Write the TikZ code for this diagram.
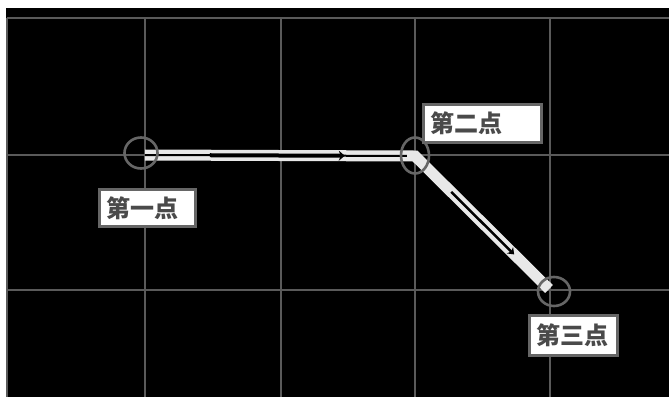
\documentclass[tikz,border=0pt]{standalone}
\usepackage{fontspec}
\newfontfamily\cjk{Noto Sans CJK SC}
\usetikzlibrary{arrows.meta,shapes.geometric,calc}
\definecolor{gridgray}{HTML}{5A5A5A}
\definecolor{markgray}{HTML}{666666}
\definecolor{textgray}{HTML}{4A4A4A}
\definecolor{bandwhite}{HTML}{E8E8E8}
\tikzset{
  gridline/.style={draw=gridgray, line width=1.5pt},
  marker/.style={ellipse, draw=markgray, line width=2.6pt, inner sep=0pt},
  band/.style={draw=bandwhite, line width=11pt, line join=miter},
  labelbox/.style={draw=markgray, line width=3pt, fill=white, text=textgray,
    font=\cjk\bfseries\fontsize{24}{24}\selectfont, inner xsep=7pt, inner ysep=0pt, align=left}
}
\begin{document}
\begin{tikzpicture}[x=1pt,y=-1pt]
                \useasboundingbox (0,0) rectangle (669,397);
                \fill[white] (0,0) rectangle (669,397);
                \fill[black] (6,8) rectangle (669,397);

                \foreach \gx in {7,145,281,415,550}
                    \draw[gridline] (\gx,18) to (\gx,397);
                \foreach \gy in {18,155,290}
                    \draw[gridline] (7,\gy) to (669,\gy);

                \coordinate (p1) at (145,155);
                \coordinate (p2) at (415,156);
                \coordinate (p3) at (549,289);

                \draw[band](p1) to (p2) to (p3);
                \draw[line width = 2pt](p1) to ($(p1)!.97!(p2)$);
                \draw[line width = 4pt, -{Stealth[length=6pt,width=10pt]}]($(p1)!.24!(p2)$) to ($(p1)!.74!(p2)$);
                \draw[line width = 2.5pt, -{Stealth[length=6pt,width=9pt]}]($(p2)!.27!(p3)$) to ($(p2)!.74!(p3)$);

                \node[marker, minimum width=33pt, minimum height=31pt](m1) at (141,153) {};
                \node[marker, minimum width=28pt, minimum height=36pt](m2) at (415,155.5) {};
                \node[marker, minimum width=32pt, minimum height=29pt](m3) at (554,291.5) {};

                \node[labelbox, text width=82pt, minimum height=37pt](first) at (147.5,208) {第一点};
                \node[labelbox, text width=104pt, minimum height=38pt](second) at (482.5,123.5) {第二点};
                \node[labelbox, text width=74pt, minimum height=40pt](third) at (573.5,335.5) {第三点};
\end{tikzpicture}
\end{document}
